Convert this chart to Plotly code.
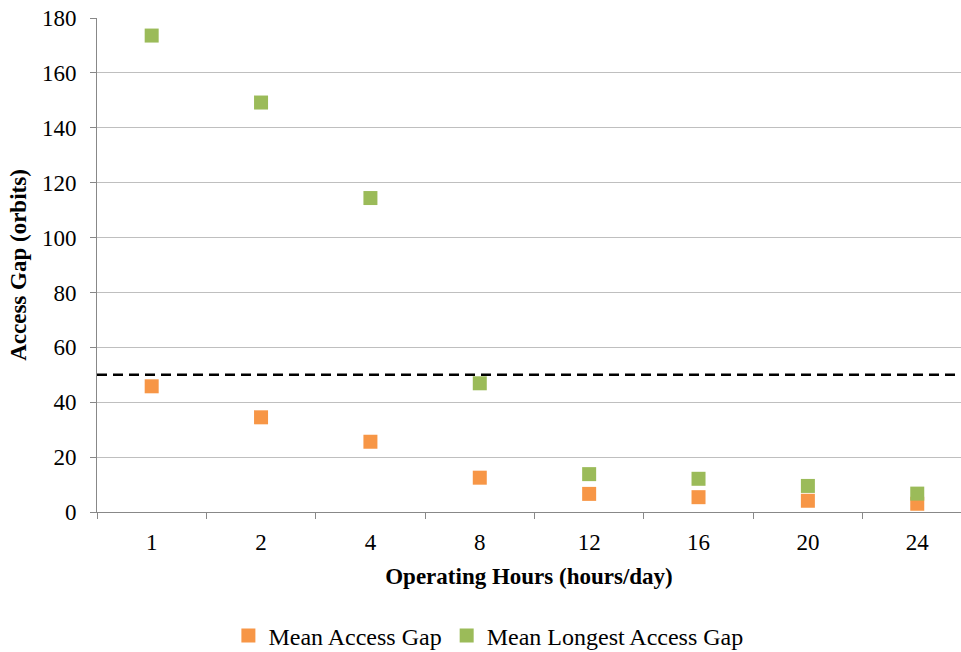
import plotly.graph_objects as go

hours = ["1", "2", "4", "8", "12", "16", "20", "24"]
mean_gap = [45.8, 34.5, 25.6, 12.5, 6.6, 5.4, 4.1, 3.0]
mean_longest_gap = [173.6, 149.2, 114.4, 46.9, 13.8, 12.1, 9.5, 6.7]
threshold = 50

orange = "#F79646"
green = "#9BBB59"
font_family = "Liberation Serif, Times New Roman, serif"

fig = go.Figure()
fig.add_trace(go.Scatter(
    x=hours, y=mean_gap, mode="markers", name="Mean Access Gap",
    marker=dict(symbol="square", size=14, color=orange),
))
fig.add_trace(go.Scatter(
    x=hours, y=mean_longest_gap, mode="markers", name="Mean Longest Access Gap",
    marker=dict(symbol="square", size=14, color=green),
))

fig.add_shape(type="line", xref="paper", x0=0, x1=1, yref="y", y0=threshold, y1=threshold,
              line=dict(color="black", width=2.5, dash="10px,6px"))

fig.update_layout(
    width=961, height=652,
    margin=dict(l=97, r=0, t=18, b=140, autoexpand=False),
    paper_bgcolor="white", plot_bgcolor="white",
    font=dict(family=font_family, size=23, color="black"),
    showlegend=True,
    legend=dict(orientation="h", xref="paper", yref="paper",
                x=0.453, y=-0.251, xanchor="center", yanchor="middle",
                font=dict(size=24)),
    xaxis=dict(
        type="category", range=[-0.5, 7.4], automargin=False,
        tickson="boundaries", ticks="outside", ticklen=6, tickcolor="#888888",
        showline=True, linecolor="#888888", linewidth=1,
        showgrid=False, zeroline=False,
        ticklabelstandoff=9,
        title=dict(text="<b>Operating Hours (hours/day)</b>", font=dict(size=23), standoff=14),
        tickfont=dict(size=23),
    ),
    yaxis=dict(
        range=[0, 180], dtick=20, tick0=0, automargin=False,
        ticks="outside", ticklen=6, tickcolor="#888888",
        showline=True, linecolor="#888888", linewidth=1,
        showgrid=True, gridcolor="#BFBFBF", gridwidth=1,
        zeroline=False,
        ticklabelstandoff=9,
        title=dict(text="<b>Access Gap (orbits)</b>", font=dict(size=23), standoff=8),
        tickfont=dict(size=23),
    ),
)

fig.write_html(
    "out.html",
    config={"displayModeBar": False},
    post_script="document.body.style.margin='0';document.body.style.overflow='hidden';",
)
